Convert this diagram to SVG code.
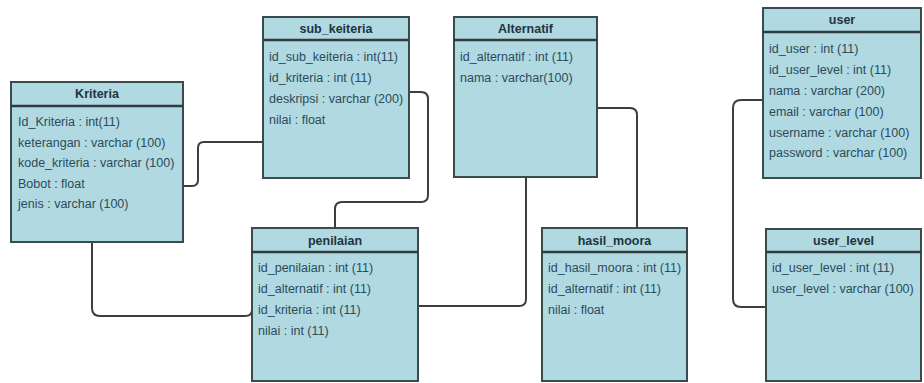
<svg xmlns="http://www.w3.org/2000/svg" width="924" height="383" viewBox="0 0 924 383">
<style>
.box{fill:#b0d9e1;stroke:#3b4a4c;stroke-width:2}
.hd{stroke:#2f3b3d;stroke-width:2.5}
.t{font-family:"Liberation Sans",Arial,sans-serif;font-size:12.5px;fill:#2c4b5b}
.ti{font-family:"Liberation Sans",Arial,sans-serif;font-size:12.5px;font-weight:bold;fill:#22343f;text-anchor:middle}
.c{fill:none;stroke:#3a3f40;stroke-width:2}
</style>
<rect width="924" height="383" fill="#ffffff"/>
<g id="connectors">
<path class="c" d="M183,186 H192 Q198,186 198,180 V148 Q198,142 204,142 H263"/>
<path class="c" d="M409,92 H421 Q428,92 428,99 V195 Q428,202 421,202 H342 Q335,202 335,209 V228"/>
<path class="c" d="M92,242 V308 Q92,316 100,316 H245 Q252,316 252,310"/>
<path class="c" d="M526,177 V299 Q526,306 519,306 H418"/>
<path class="c" d="M597,108 H630 Q637,108 637,115 V228"/>
<path class="c" d="M763,100 H741 Q733,100 733,108 V299 Q733,307 741,307 H766"/>
</g>
<g id="kriteria">
<rect class="box" x="11" y="82" width="172" height="160"/>
<line class="hd" x1="11" y1="106" x2="183" y2="106"/>
<text class="ti" x="97" y="98">Kriteria</text>
<text class="t" x="18" y="126">Id_Kriteria : int(11)</text>
<text class="t" x="18" y="146.5">keterangan : varchar (100)</text>
<text class="t" x="18" y="167">kode_kriteria : varchar (100)</text>
<text class="t" x="18" y="187.5">Bobot : float</text>
<text class="t" x="18" y="208">jenis : varchar (100)</text>
</g>
<g id="sub_keiteria">
<rect class="box" x="263" y="17" width="146" height="161"/>
<line class="hd" x1="263" y1="40" x2="409" y2="40"/>
<text class="ti" x="336" y="33">sub_keiteria</text>
<text class="t" x="269" y="61">id_sub_keiteria : int(11)</text>
<text class="t" x="269" y="82">id_kriteria : int (11)</text>
<text class="t" x="269" y="103">deskripsi : varchar (200)</text>
<text class="t" x="269" y="124">nilai : float</text>
</g>
<g id="alternatif">
<rect class="box" x="454" y="17" width="143" height="160"/>
<line class="hd" x1="454" y1="40" x2="597" y2="40"/>
<text class="ti" x="525.5" y="33">Alternatif</text>
<text class="t" x="460" y="61">id_alternatif : int (11)</text>
<text class="t" x="460" y="82">nama : varchar(100)</text>
</g>
<g id="penilaian">
<rect class="box" x="252" y="228" width="166" height="153"/>
<line class="hd" x1="252" y1="252" x2="418" y2="252"/>
<text class="ti" x="335" y="245">penilaian</text>
<text class="t" x="258" y="272">id_penilaian : int (11)</text>
<text class="t" x="258" y="293">id_alternatif : int (11)</text>
<text class="t" x="258" y="314">id_kriteria : int (11)</text>
<text class="t" x="258" y="335">nilai : int (11)</text>
</g>
<g id="hasil_moora">
<rect class="box" x="542" y="228" width="145" height="153"/>
<line class="hd" x1="542" y1="252" x2="687" y2="252"/>
<text class="ti" x="614.5" y="245">hasil_moora</text>
<text class="t" x="548" y="272">id_hasil_moora : int (11)</text>
<text class="t" x="548" y="293">id_alternatif : int (11)</text>
<text class="t" x="548" y="314">nilai : float</text>
</g>
<g id="user">
<rect class="box" x="763" y="8" width="158" height="170"/>
<line class="hd" x1="763" y1="32" x2="921" y2="32"/>
<text class="ti" x="842" y="24">user</text>
<text class="t" x="769" y="53">id_user : int (11)</text>
<text class="t" x="769" y="74">id_user_level : int (11)</text>
<text class="t" x="769" y="95">nama : varchar (200)</text>
<text class="t" x="769" y="116">email : varchar (100)</text>
<text class="t" x="769" y="137">username : varchar (100)</text>
<text class="t" x="769" y="157">password : varchar (100)</text>
</g>
<g id="user_level">
<rect class="box" x="766" y="229" width="155" height="152"/>
<line class="hd" x1="766" y1="252" x2="921" y2="252"/>
<text class="ti" x="843.5" y="245">user_level</text>
<text class="t" x="772" y="272">id_user_level : int (11)</text>
<text class="t" x="772" y="293">user_level : varchar (100)</text>
</g>
</svg>
